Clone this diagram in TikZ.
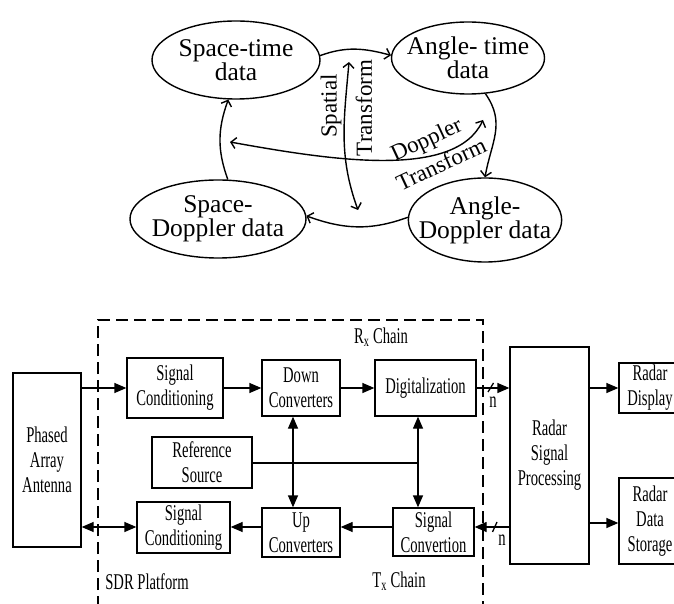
\documentclass[tikz,border=0pt]{standalone}
\usepackage{fontspec}
\setmainfont{Liberation Serif}
\newfontfamily\condfont[FakeStretch=0.65]{Liberation Serif}
\usetikzlibrary{shapes.geometric,arrows.meta}
\begin{document}
\begin{tikzpicture}[x=1pt,y=1pt,
  ell/.style={ellipse, draw, line width=1.4pt, inner sep=-12pt, align=center, font=\fontsize{25.5}{24}\selectfont},
  cyc/.style={line width=1.4pt, -{Straight Barb[length=5pt,width=11pt]}},
  dcyc/.style={line width=1.4pt, {Straight Barb[length=5pt,width=11pt]}-{Straight Barb[length=5pt,width=11pt]}},
  lbl/.style={font=\fontsize{23}{23}\selectfont},
  blk/.style={draw, line width=1.3pt, inner sep=0pt, align=center, font=\condfont\fontsize{22.5}{25}\selectfont},
  txt/.style={font=\condfont\fontsize{22.5}{24}\selectfont},
  arr/.style={line width=1.3pt, -{Triangle[length=12pt,width=10pt]}},
  darr/.style={line width=1.3pt, {Triangle[length=12pt,width=10pt]}-{Triangle[length=12pt,width=10pt]}},
  plain/.style={line width=1.3pt}
]
\useasboundingbox (0,0) rectangle (674,603);

% ---------- top: data domains ----------
\node[ell, minimum width=168pt, minimum height=78pt] (st) at (236,543) {Space-time\\data};
\node[ell, minimum width=153pt, minimum height=72pt] (atd) at (468,545) {Angle- time\\data};
\node[ell, minimum width=176pt, minimum height=78pt] (sd) at (218,384) {Space-\\Doppler data};
\node[ell, minimum width=152pt, minimum height=84pt] (ad) at (485,383) {Angle-\\Doppler data};

\draw[cyc] (st.3) to[out=20,in=165] (atd.178);
\draw[cyc] (atd.-64) to[out=-55,in=80,looseness=1.1] (ad.90);
\draw[cyc] (ad.178) to[out=200,in=-20] (sd.2);
\draw[cyc] (sd.76) to[out=110,in=-110] (st.-101);

\coordinate (sp1) at (349,541);
\coordinate (sp2) at (358,393);
\draw[dcyc] (sp1) to[out=-95,in=110] (sp2);
\coordinate (dt1) at (230,461);
\coordinate (dt2) at (483,483);
\draw[dcyc] (dt1) .. controls (330,443) and (455,423) .. (dt2);

\node[lbl, rotate=90] at (331,497) {Spatial};
\node[lbl, rotate=90] at (364,495) {Transform};
\node[lbl, rotate=25] at (427,462) {Doppler};
\node[lbl, rotate=25] at (441,439) {Transform};

% ---------- bottom: SDR radar ----------
\draw[line width=1.3pt, dash pattern=on 12pt off 6pt] (98,-5) -- (98,283) -- (483,283) -- (483,-5);

\node[blk, minimum width=68pt, minimum height=174pt] (ant) at (47,143) {Phased\\Array\\Antenna};
\node[blk, minimum width=96pt, minimum height=60pt] (sc1) at (175,215) {Signal\\Conditioning};
\node[blk, minimum width=78pt, minimum height=56pt] (dc) at (301,215) {Down\\Converters};
\node[blk, minimum width=101pt, minimum height=56pt] (dig) at (425.5,215) {Digitalization};
\node[blk, minimum width=100pt, minimum height=51pt] (ref) at (202,140.5) {Reference\\Source};
\node[blk, minimum width=93pt, minimum height=51pt] (sc2) at (183.5,75.5) {Signal\\Conditioning};
\node[blk, minimum width=78pt, minimum height=49pt] (uc) at (301,70.5) {Up\\Converters};
\node[blk, minimum width=81pt, minimum height=48pt] (scv) at (433.5,71) {Signal\\Convertion};
\node[blk, minimum width=79pt, minimum height=217pt] (rsp) at (549.5,147.5) {Radar\\Signal\\Processing};
\node[blk, minimum width=62pt, minimum height=50pt] (rd) at (650,215) {Radar\\Display};
\node[blk, minimum width=62pt, minimum height=86pt] (rds) at (650,82) {Radar\\Data\\Storage};

\draw[arr] (ant.east |- sc1.west) -- (sc1.west);
\draw[arr] (sc1.east) -- (dc.west);
\draw[arr] (dc.east) -- (dig.west);
\draw[arr] (dig.east) -- (rsp.west |- dig.east);
\draw[plain] (488,211) -- (493.5,220);
\node[txt] at (493,201) {n};
\draw[arr] (rsp.east |- rd.west) -- (rd.west);
\draw[arr] (rsp.east |- 0,80) -- (rds.west |- 0,80);
\draw[arr] (rsp.west |- 0,76) -- (scv.east |- 0,76);
\draw[plain] (492.5,71) -- (497,81);
\node[txt] at (502,63) {n};
\draw[arr] (scv.west |- 0,76) -- (uc.east |- 0,76);
\draw[arr] (uc.west |- 0,76) -- (sc2.east |- 0,76);
\draw[darr] (sc2.west |- 0,76) -- (ant.east |- 0,76);
\draw[darr] (dc.south -| 293,0) -- (uc.north -| 293,0);
\draw[darr] (dig.south -| 418,0) -- (scv.north -| 418,0);
\coordinate (j) at (418,140);
\draw[plain] (ref.east |- j) -- (j);

\node[txt] at (381,266) {R\textsubscript{x} Chain};
\node[txt] at (399,22) {T\textsubscript{x} Chain};
\node[txt] at (147,21) {SDR Platform};
\end{tikzpicture}
\end{document}
